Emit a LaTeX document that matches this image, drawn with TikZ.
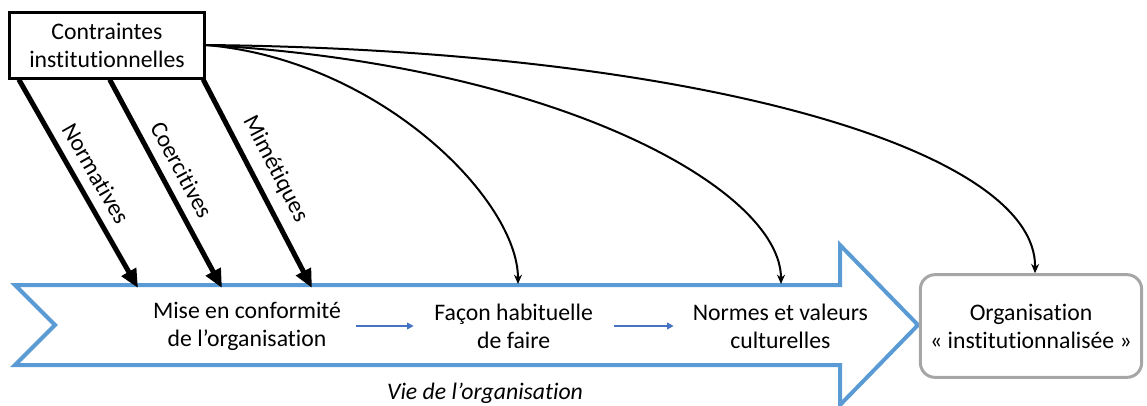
\documentclass[tikz,border=0pt]{standalone}
\usepackage{fontspec}
\setmainfont{Carlito}[Ligatures=NoCommon]
\usetikzlibrary{arrows.meta,positioning}
\definecolor{lineblue}{HTML}{5B9BD5}
\definecolor{darkblue}{HTML}{4472C4}
\definecolor{boxgray}{HTML}{A6A6A6}

\begin{document}
\begin{tikzpicture}[x=0.75pt,y=0.75pt,node distance=200pt,on grid,
    txt/.style={align=center,font=\fontsize{17.8pt}{21pt}\selectfont},
    force/.style={line width=3.75pt,-{Triangle[length=14pt,width=12pt]}},
    influence/.style={line width=1.5pt,-{Stealth[length=7pt,width=6pt]}},
    flow/.style={darkblue,line width=1.5pt,-{Triangle[length=5pt,width=5pt]}}]
    \useasboundingbox (0,0) rectangle (1147,405);
    % grande fleche
    \draw[lineblue,line width=3pt] (15,120) -- (840,120) -- (840,160) -- (918,80) -- (840,0) -- (840,40) -- (15,40) -- (55,80) -- cycle;

    \node[txt] (mise) at (247,79) {Mise en conformité\\de l’organisation};
    \node[txt] (facon) [right=of mise] {Façon habituelle\\de faire};
    \node[txt] (normes) [right=of facon] {Normes et valeurs\\culturelles};
    \node[txt,draw=boxgray,line width=2.25pt,rounded corners=11pt,minimum width=166pt,minimum height=77pt] (org) [right=188pt of normes] {Organisation\\« institutionnalisée »};
    \node[txt,font=\fontsize{17.8pt}{21pt}\selectfont\itshape] (vie) at (485,12) {Vie de l’organisation};
    \node[txt,draw,line width=2.25pt,minimum width=146pt,minimum height=49.5pt] (contraintes) at (107,360) {Contraintes\\institutionnelles};

    \coordinate (n1) at (138,117);
    \coordinate (n2) at (222,117);
    \coordinate (n3) at (312,117);
    \coordinate (f1) at (518,121);
    \coordinate (f2) at (781,121);

    \draw[force] ([xshift=8pt]contraintes.south west) -- node[txt,sloped,above=4pt,pos=0.5] {Normatives} (n1);
    \draw[force] ([xshift=2pt]contraintes.south) -- node[txt,sloped,above=4pt,pos=0.48] {Coercitives} (n2);
    \draw[force] ([xshift=-2pt]contraintes.south east) -- node[txt,sloped,above=4pt,pos=0.48] {Mimétiques} (n3);

    \draw[influence] (contraintes.east) .. controls (380,345) and (518,205) .. (f1);
    \draw[influence] (contraintes.east) .. controls (560,340) and (781,215) .. (f2);
    \draw[influence] (contraintes.east) .. controls (700,355) and (1037,255) .. ([xshift=3pt]org.north);

    \draw[flow] ([xshift=82pt]mise.center) -- ([xshift=-75pt]facon.center);
    \draw[flow] ([xshift=75pt]facon.center) -- ([xshift=-80pt]normes.center);
\end{tikzpicture}
\end{document}
